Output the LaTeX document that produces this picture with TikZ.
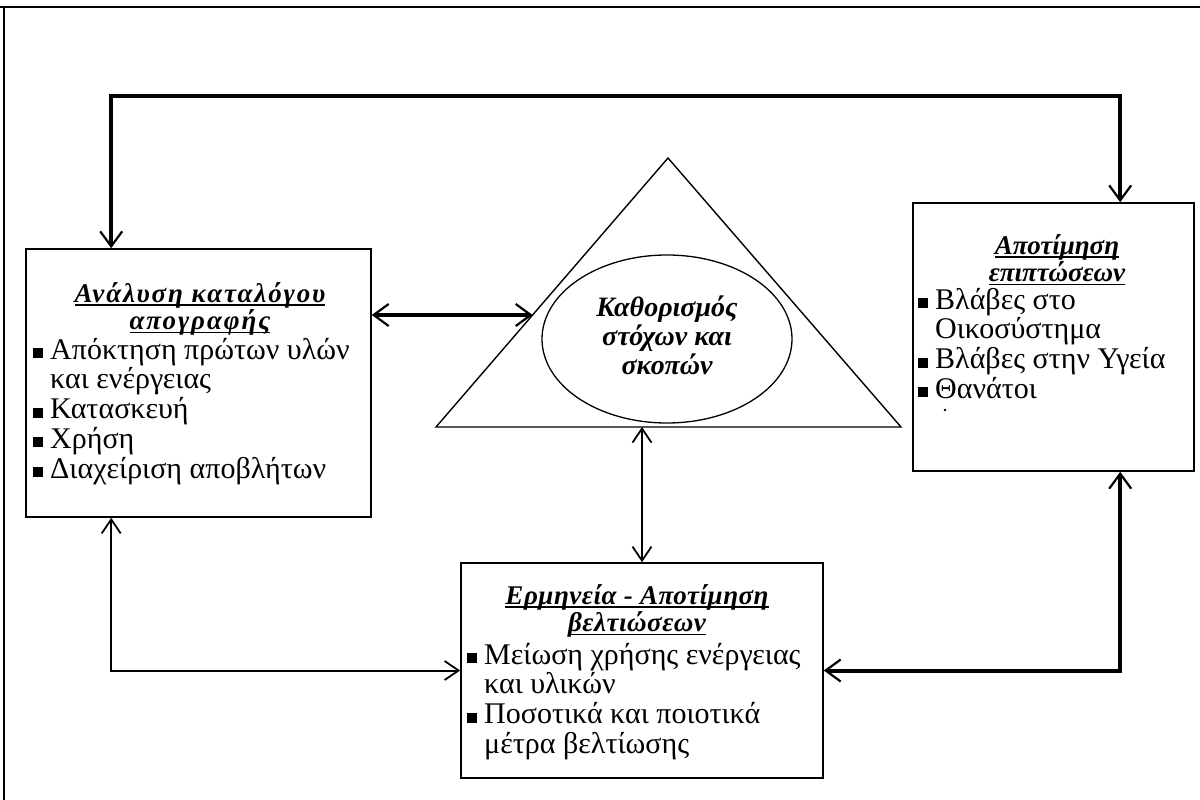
\documentclass[tikz,border=0pt]{standalone}
\usepackage{fontspec}
\setmainfont{Liberation Serif}
\usetikzlibrary{arrows.meta,shapes.geometric,calc}

% underline drawn at a fixed depth below the baseline
\newcommand\ulx[1]{\setbox0\hbox{#1}\rlap{\rule[-3.5pt]{\wd0}{1.3pt}}\box0}
% square bullet
\newcommand\sq{\rule[1pt]{10pt}{10pt}}

\tikzset{
  box/.style={draw, rectangle, line width=1.6pt, inner sep=0pt},
  heading/.style={inner sep=0pt, anchor=base,
    font=\fontsize{27}{26}\selectfont\bfseries\itshape},
  items/.style={inner sep=0pt, anchor=base west,
    font=\fontsize{30}{28.8}\selectfont},
  bigarrow/.style={line width=4pt,
    arrows={Straight Barb[length=15pt,width=22pt,line width=2.2pt]-Straight Barb[length=15pt,width=22pt,line width=2.2pt]}},
  thinarrow/.style={line width=2pt,
    arrows={Straight Barb[length=14pt,width=19pt,line width=1.8pt]-Straight Barb[length=14pt,width=19pt,line width=1.8pt]}},
}

\begin{document}
\begin{tikzpicture}[x=1pt,y=-1pt]
\useasboundingbox (0,0) rectangle (1200,800);

% outer frame
\draw[line width=2pt] (0,7) -- (1200,7);
\draw[line width=1.5pt] (4,7) -- (4,800);

% boxes
\node[box, minimum width=345pt, minimum height=268pt] (inv) at (198.5,383) {};
\node[box, minimum width=281pt, minimum height=268pt] (imp) at (1053.5,337) {};
\node[box, minimum width=362pt, minimum height=215pt] (int) at (642,670.5) {};

% triangle with the goals ellipse
\coordinate (tA) at (668,158);
\coordinate (tL) at (436,427);
\coordinate (tR) at (901,427);
\draw[line width=1.4pt, line join=miter] (tL) -- (tA) -- (tR) -- cycle;
\node[ellipse, draw, line width=1.3pt, minimum width=250pt, minimum height=168pt,
      inner sep=0pt, font=\fontsize{28}{28}\selectfont\bfseries\itshape] (goal) at (667,339)
  {\begin{tabular}{@{}c@{}}Καθορισμός\\ στόχων και\\ σκοπών\end{tabular}};

% inventory analysis
\node[heading] (invhead) at (200,302)
  {\addfontfeatures{LetterSpace=7}\begin{tabular}[t]{@{}c@{}}\ulx{Ανάλυση καταλόγου}\\ \ulx{απογραφής}\end{tabular}};
\node[items] (invlist) at (33,359)
  {\begin{tabular}[t]{@{}l@{\hspace{7pt}}l@{}}
   \sq & Απόκτηση πρώτων υλών\\
       & και ενέργειας\\
   \sq & Κατασκευή\\
   \sq & Χρήση\\
   \sq & Διαχείριση αποβλήτων
   \end{tabular}};

% impact assessment
\node[heading] (imphead) at (1057,254)
  {\begin{tabular}[t]{@{}c@{}}\ulx{Αποτίμηση}\\ \ulx{επιπτώσεων}\end{tabular}};
\node[items] (implist) at (918,309)
  {\begin{tabular}[t]{@{}l@{\hspace{7pt}}l@{}}
   \sq & Βλάβες στο\\
       & Οικοσύστημα\\
   \sq & Βλάβες στην Υγεία\\
   \sq & Θανάτοι
   \end{tabular}};
\fill (945,410) circle (1.3pt);

% interpretation
\node[heading] (inthead) at (637,604)
  {\addfontfeatures{LetterSpace=2}\begin{tabular}[t]{@{}c@{}}\ulx{Ερμηνεία - Αποτίμηση}\\ \ulx{βελτιώσεων}\end{tabular}};
\node[items] (intlist) at (467,664)
  {\begin{tabular}[t]{@{}l@{\hspace{7pt}}l@{}}
   \sq & Μείωση χρήσης ενέργειας\\
       & και υλικών\\
   \sq & Ποσοτικά και ποιοτικά\\
       & μέτρα βελτίωσης
   \end{tabular}};

% connectors
\coordinate (topbar) at (600,96);
\coordinate (side) at ($(tL)!0.4164!(tA)$);
\draw[bigarrow] ([xshift=86pt]inv.north west) |- (topbar) -| ([xshift=208pt]imp.north west);
\draw[bigarrow] (inv.east |- side) -- (side);
\draw[thinarrow] (int.north |- tL) -- (int.north);
\draw[thinarrow] ([xshift=86pt]inv.south west) |- (int.west);
\draw[bigarrow] ([xshift=208pt]imp.south west) |- (int.east);
\end{tikzpicture}
\end{document}
